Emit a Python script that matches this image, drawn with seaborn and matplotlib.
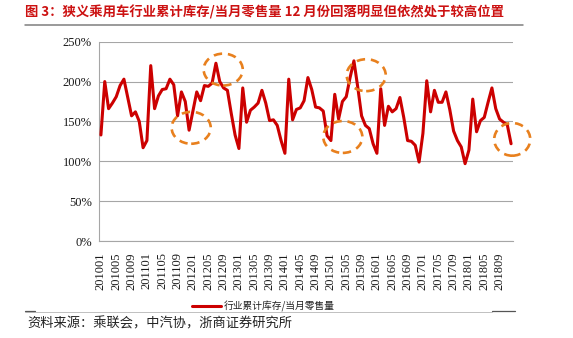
import matplotlib
matplotlib.use("Agg")
import matplotlib.pyplot as plt
from matplotlib.patches import Ellipse
from matplotlib.lines import Line2D
import seaborn as sns
import pandas as pd
import numpy as np

# Months 2010-01 .. 2018-12
months = [f"{y}{m:02d}" for y in range(2010, 2019) for m in range(1, 13)]

# Cumulative dealer inventory / monthly retail sales (%)
ratio = [
    133, 200, 166, 173, 181, 195, 203, 180, 157, 162, 150, 117,
    126, 220, 166, 182, 190, 191, 203, 196, 157, 187, 175, 139,
    163, 187, 176, 195, 194, 198, 223, 200, 192, 189, 160, 133,
    116, 192, 149, 164, 168, 173, 189, 173, 151, 152, 145, 126,
    110, 203, 152, 165, 167, 176, 205, 190, 168, 167, 163, 132,
    126, 184, 153, 175, 181, 205, 226, 193, 157, 145, 141, 122,
    110, 191, 145, 169, 162, 166, 180, 155, 126, 125, 120, 99,
    135, 201, 162, 189, 174, 174, 187, 165, 138, 126, 118, 97,
    114, 178, 137, 151, 155, 174, 192, 166, 153, 149, 146, 122,
]

series_name = "行业累计库存/当月零售量"
title_text = "图 3：狭义乘用车行业累计库存/当月零售量 12 月份回落明显但依然处于较高位置"
source_text = "资料来源：乘联会，中汽协，浙商证券研究所"

y_ticks = [0, 50, 100, 150, 200, 250]
y_tick_labels = ["0%", "50%", "100%", "150%", "200%", "250%"]
x_tick_step = 4

# Highlighted regions: (centre month, centre %, width in months, height in %)
highlights = [
    (23.55, 142, 10.2, 40),
    (31.9, 215, 10.2, 40),
    (63.1, 130.5, 10.2, 40),
    (69.2, 208, 10.2, 40),
    (107.3, 127.5, 9.4, 41),
]

df = pd.DataFrame({"idx": np.arange(len(months)), "month": months, "ratio": ratio})

sns.set_style("white")
plt.rcParams["font.family"] = ["Liberation Serif", "DejaVu Sans"]
cjk = ["Noto Sans CJK SC", "DejaVu Sans"]

fig = plt.figure(figsize=(5.73, 3.38), dpi=100)
ax = fig.add_axes([99 / 573, 1 - 241 / 338, 414 / 573, (241 - 41.7) / 338])

sns.lineplot(data=df, x="idx", y="ratio", ax=ax, color="#CC0000",
             linewidth=2.2, label=series_name, zorder=3)

ax.set_xlim(-0.5, len(months) - 0.5)
ax.set_ylim(0, 250)
ax.set_yticks(y_ticks)
ax.set_yticklabels(y_tick_labels)
ax.yaxis.grid(True, color="#A6A6A6", linewidth=0.8)
ax.xaxis.grid(False)
ax.set_axisbelow(True)

tick_pos = list(range(0, len(months), x_tick_step))
ax.set_xticks(tick_pos)
ax.set_xticklabels([months[i] for i in tick_pos], rotation=90)
ax.set_xticks(np.arange(len(months) + 1) - 0.5, minor=True)
ax.tick_params(axis="x", which="major", length=0, pad=8, labelsize=9, colors="#1a1a1a")
ax.tick_params(axis="x", which="minor", length=3.5, width=0.6, color="#A6A6A6", direction="out")
ax.tick_params(axis="y", which="major", length=0, pad=5, labelsize=9, colors="#1a1a1a")
ax.set_xlabel("")
ax.set_ylabel("")

for side in ["top", "right"]:
    ax.spines[side].set_visible(False)
for side in ["left", "bottom"]:
    ax.spines[side].set_color("#A6A6A6")
    ax.spines[side].set_linewidth(0.8)

for cx, cy, w, h in highlights:
    e = Ellipse((cx, cy), w, h, fill=False, edgecolor="#E8801E", linewidth=1.9,
                linestyle=(0, (3.2, 2.2)), clip_on=False, zorder=4)
    ax.add_patch(e)

leg = ax.legend(loc="center left", bbox_to_anchor=(192 / 573, 1 - 306 / 338),
                bbox_transform=fig.transFigure, frameon=False, borderpad=0,
                borderaxespad=0, handlelength=3.0, handletextpad=0.25,
                prop={"family": cjk, "size": 7})
for t in leg.get_texts():
    t.set_color("#222222")

# Title and rules
fig.text(25 / 573, 1 - 12.5 / 338, title_text, family=cjk, fontsize=9.6,
         fontweight="bold", color="#CC1111", ha="left", va="center")
fig.add_artist(Line2D([25 / 573, 523 / 573], [1 - 24.5 / 338] * 2,
                      transform=fig.transFigure, color="#7F7F7F", linewidth=1.1))
fig.add_artist(Line2D([25 / 573, 492 / 573], [1 - 312 / 338] * 2,
                      transform=fig.transFigure, color="#C0C0C0", linewidth=0.7))
fig.add_artist(Line2D([25 / 573, 35 / 573], [1 - 311 / 338] * 2,
                      transform=fig.transFigure, color="#555555", linewidth=0.9))
fig.add_artist(Line2D([492 / 573, 515 / 573], [1 - 311 / 338] * 2,
                      transform=fig.transFigure, color="#555555", linewidth=0.9))

fig.text(27 / 573, 1 - 324 / 338, source_text, family=cjk, fontsize=9.5,
         color="#222222", ha="left", va="center")

fig.savefig("out.png", dpi=100)
